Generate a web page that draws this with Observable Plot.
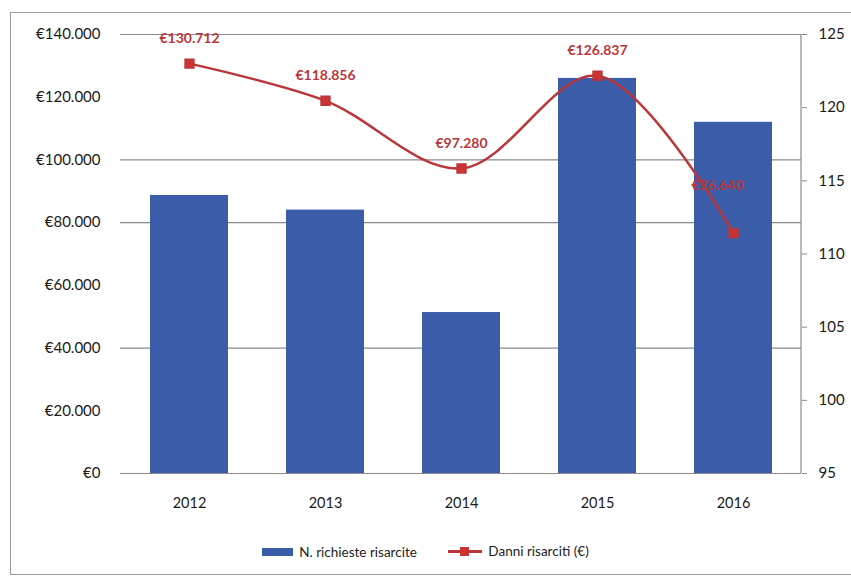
<!DOCTYPE html>
<html>
<head>
<meta charset="utf-8">
<script src="https://cdn.jsdelivr.net/npm/d3@7"></script>
<script src="https://cdn.jsdelivr.net/npm/@observablehq/plot@0.6"></script>
<style>
  html, body { margin: 0; padding: 0; background: #fff; }
  #wrap { position: relative; width: 851px; height: 578px; overflow: hidden; font-family: Lato, "Noto Sans", sans-serif; }
  #box { position: absolute; left: 10px; top: 12px; width: 860px; height: 563px; border: 1.5px solid #999; box-sizing: border-box; }
  #chart { position: absolute; left: 0; top: 0; }
  #legend { position: absolute; left: 0; top: 543px; width: 851px; text-align: center; font-size: 13.5px; color: #222; }
  #legend span.item { display: inline-flex; align-items: center; margin: 0 14px; }
  .sw-bar { display: inline-block; width: 31px; height: 8px; background: #3a5ca9; margin-right: 6px; }
  .sw-line { position: relative; display: inline-block; width: 34px; height: 10px; margin-right: 6px; }
  .sw-line::before { content: ""; position: absolute; left: 0; right: 0; top: 4px; height: 2.5px; background: #b9373a; }
  .sw-line::after { content: ""; position: absolute; left: 12px; top: 1px; width: 9px; height: 9px; background: #cc3333; }
</style>
</head>
<body>
<div id="wrap">
  <div id="box"></div>
  <div id="chart"></div>
  <div id="legend">
    <span class="item"><span class="sw-bar"></span>N. richieste risarcite</span>
    <span class="item"><span class="sw-line"></span>Danni risarciti (€)</span>
  </div>
</div>
<script>
const years = ["2012", "2013", "2014", "2015", "2016"];
const richieste = [114, 113, 106, 122, 119];          // right axis (count)
const danni = [130712, 118856, 97280, 126837, 76640]; // left axis (€)
const leftTicks = [0, 20000, 40000, 60000, 80000, 100000, 120000, 140000];
const gridValues = [0, 40000, 80000, 100000, 140000];
const rightTicks = [95, 100, 105, 110, 115, 120, 125];
const rightMin = 95, rightMax = 125, leftMax = 140000;

const toLeft = v => (v - rightMin) / (rightMax - rightMin) * leftMax;
const euro = v => "€" + d3.format(",")(v).replace(/,/g, ".");

const barData = years.map((y, i) => ({year: y, v: richieste[i], yv: toLeft(richieste[i])}));
const lineData = years.map((y, i) => ({year: y, v: danni[i], label: euro(danni[i])}));

const W = 851, H = 520, mL = 120, mR = 50, mT = 34, mB = 47;

const plot = Plot.plot({
  width: W, height: H,
  marginLeft: mL, marginRight: mR, marginTop: mT, marginBottom: mB,
  style: {fontFamily: "Lato, 'Noto Sans', sans-serif", fontSize: "13px", color: "#1a1a1a", background: "transparent"},
  x: {domain: years, paddingInner: 0.43, paddingOuter: 0.215, label: null},
  y: {domain: [0, leftMax], label: null},
  marks: [
    Plot.ruleY(gridValues, {stroke: "#8a8a8a", strokeWidth: 1.2}),
    Plot.barY(barData, {x: "year", y1: 0, y2: "yv", fill: "#3a5ca9"}),
    Plot.line(lineData, {x: "year", y: "v", stroke: "#b9373a", strokeWidth: 2.5, curve: "catmull-rom"}),
    Plot.dot(lineData, {x: "year", y: "v", symbol: "square", fill: "#cc3333", stroke: "#b9373a", r: 5}),
    Plot.text(lineData.slice(0, 4), {x: "year", y: "v", text: "label", dy: -25, fill: "#b9373a", fontWeight: "bold", fontSize: 14}),
    Plot.text(lineData.slice(4), {x: "year", y: "v", text: "label", dy: -48, dx: -16, fill: "#b9373a", fontWeight: "bold", fontSize: 14}),
    Plot.axisY({ticks: leftTicks, tickFormat: euro, tickSize: 0, tickPadding: 20, fontSize: 15, label: null}),
    Plot.axisY({anchor: "right", ticks: rightTicks.map(toLeft), tickFormat: v => String(Math.round(v / leftMax * (rightMax - rightMin) + rightMin)), tickSize: 5, tickPadding: 12, fontSize: 15, stroke: "#8a8a8a", label: null}),
    Plot.axisX({tickSize: 0, tickPadding: 24, fontSize: 14.5, label: null})
  ]
});

// right axis line
d3.select(plot).append("line")
  .attr("x1", W - mR).attr("x2", W - mR)
  .attr("y1", mT).attr("y2", H - mB)
  .attr("stroke", "#8a8a8a").attr("stroke-width", 1.2);

document.getElementById("chart").appendChild(plot);
</script>
</body>
</html>
